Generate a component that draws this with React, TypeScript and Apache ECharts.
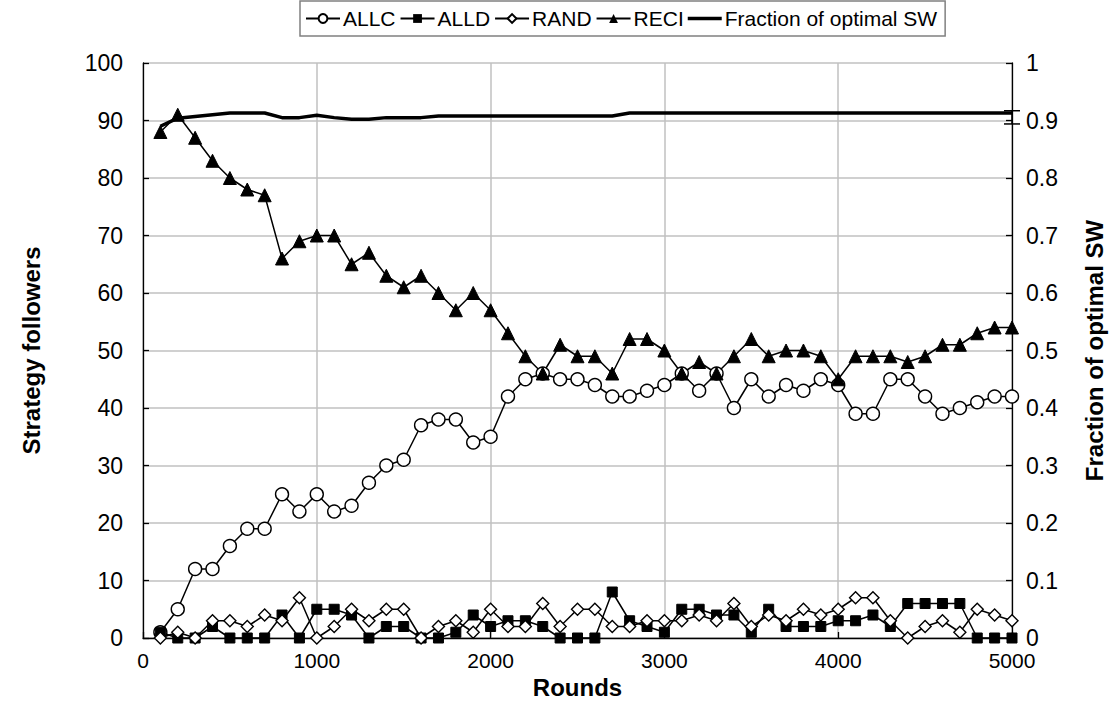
import React, { useEffect, useRef } from "react";
import * as echarts from "echarts";

const rounds = [
  100, 200, 300, 400, 500, 600, 700, 800, 900, 1000,
  1100, 1200, 1300, 1400, 1500, 1600, 1700, 1800, 1900, 2000,
  2100, 2200, 2300, 2400, 2500, 2600, 2700, 2800, 2900, 3000,
  3100, 3200, 3300, 3400, 3500, 3600, 3700, 3800, 3900, 4000,
  4100, 4200, 4300, 4400, 4500, 4600, 4700, 4800, 4900, 5000,
];

const allc = [
  1, 5, 12, 12, 16, 19, 19, 25, 22, 25,
  22, 23, 27, 30, 31, 37, 38, 38, 34, 35,
  42, 45, 46, 45, 45, 44, 42, 42, 43, 44,
  46, 43, 46, 40, 45, 42, 44, 43, 45, 44,
  39, 39, 45, 45, 42, 39, 40, 41, 42, 42,
];

const alld = [
  1, 0, 0, 2, 0, 0, 0, 4, 0, 5,
  5, 4, 0, 2, 2, 0, 0, 1, 4, 2,
  3, 3, 2, 0, 0, 0, 8, 3, 2, 1,
  5, 5, 4, 4, 1, 5, 2, 2, 2, 3,
  3, 4, 2, 6, 6, 6, 6, 0, 0, 0,
];

const rand = [
  0, 1, 0, 3, 3, 2, 4, 3, 7, 0,
  2, 5, 3, 5, 5, 0, 2, 3, 1, 5,
  2, 2, 6, 2, 5, 5, 2, 2, 3, 3,
  3, 4, 3, 6, 2, 4, 3, 5, 4, 5,
  7, 7, 3, 0, 2, 3, 1, 5, 4, 3,
];

const reci = [
  88, 91, 87, 83, 80, 78, 77, 66, 69, 70,
  70, 65, 67, 63, 61, 63, 60, 57, 60, 57,
  53, 49, 46, 51, 49, 49, 46, 52, 52, 50,
  46, 48, 46, 49, 52, 49, 50, 50, 49, 45,
  49, 49, 49, 48, 49, 51, 51, 53, 54, 54,
];

const fractionSW = [
  0.89, 0.904, 0.907, 0.91, 0.913, 0.913, 0.913, 0.905, 0.905, 0.909,
  0.905, 0.902, 0.902, 0.905, 0.905, 0.905, 0.908, 0.908, 0.908, 0.908,
  0.908, 0.908, 0.908, 0.908, 0.908, 0.908, 0.908, 0.913, 0.913, 0.913,
  0.913, 0.913, 0.913, 0.913, 0.913, 0.913, 0.913, 0.913, 0.913, 0.913,
  0.913, 0.913, 0.913, 0.913, 0.913, 0.913, 0.913, 0.913, 0.913, 0.913,
];

// error bar at the last point: [round, low, high]
const fractionErrorBar = [[5000, 0.894, 0.917]];

const legendNames = ["ALLC", "ALLD", "RAND", "RECI", "Fraction of optimal SW"];

const leftTicks = { min: 0, max: 100, interval: 10 };
const rightTicks = { min: 0, max: 1, interval: 0.1 };
const xTicks = { min: 0, max: 5000, interval: 1000 };

const FONT = "'Liberation Sans', Arial, sans-serif";

function pairs(ys: number[]) {
  return rounds.map((r, i) => [r, ys[i]]);
}

export default function App() {
  const ref = useRef<HTMLDivElement>(null);

  useEffect(() => {
    if (!ref.current) return;
    const chart = echarts.init(ref.current, undefined, { renderer: "svg" });
    const lineStyle = { color: "#000", width: 1.5 };
    const axisLine = { show: true, lineStyle: { color: "#000", width: 1.3 } };
    const axisTick = { show: true, inside: true, length: 6, lineStyle: { color: "#000", width: 1.3 } };
    const splitLine = { show: true, lineStyle: { color: "#c0c0c0", width: 1.5 } };
    const nameStyle = { color: "#000", fontSize: 24, fontWeight: "bold" as const, fontFamily: FONT };

    chart.setOption({
      animation: false,
      backgroundColor: "#fff",
      textStyle: { fontFamily: FONT },
      legend: {
        top: 1,
        left: 300,
        itemWidth: 34,
        itemHeight: 11,
        itemGap: 4,
        padding: [7, 8, 7, 5],
        borderColor: "#808080",
        borderWidth: 1.5,
        textStyle: { color: "#000", fontSize: 21, fontFamily: FONT, padding: [0, 0, 0, -2] },
        data: legendNames.map((n, i) =>
          i === 4 ? { name: n, icon: "path://M0,0H40V4.2H0Z" } : { name: n }
        ),
      },
      grid: { left: 143, right: 99, top: 63, bottom: 82 },
      xAxis: {
        type: "value",
        ...xTicks,
        name: "Rounds",
        nameLocation: "middle",
        nameGap: 33,
        nameTextStyle: nameStyle,
        axisLine,
        axisTick,
        splitLine,
        axisLabel: {
          color: "#000",
          fontSize: 21,
          fontFamily: FONT,
          margin: 12,
          formatter: (v: number) => String(v),
        },
      },
      yAxis: [
        {
          type: "value",
          ...leftTicks,
          name: "Strategy followers",
          nameLocation: "middle",
          nameRotate: 90,
          nameGap: 100,
          nameTextStyle: nameStyle,
          axisLine,
          axisTick,
          splitLine,
          axisLabel: { color: "#000", fontSize: 23, fontFamily: FONT, margin: 20 },
        },
        {
          type: "value",
          position: "right",
          ...rightTicks,
          name: "Fraction of optimal SW",
          nameLocation: "middle",
          nameRotate: 90,
          nameGap: 70,
          nameTextStyle: nameStyle,
          axisLine,
          axisTick,
          splitLine: { show: false },
          axisLabel: {
            color: "#000",
            fontSize: 23,
            fontFamily: FONT,
            margin: 14,
            formatter: (v: number) => String(Number(v.toFixed(1))),
          },
        },
      ],
      series: [
        {
          name: "ALLC",
          type: "line",
          data: pairs(allc),
          symbol: "circle",
          symbolSize: 13,
          lineStyle,
          itemStyle: { color: "#fff", borderColor: "#000", borderWidth: 1.4 },
        },
        {
          name: "ALLD",
          type: "line",
          data: pairs(alld),
          symbol: "rect",
          symbolSize: 10,
          lineStyle,
          itemStyle: { color: "#000", borderColor: "#000" },
        },
        {
          name: "RAND",
          type: "line",
          data: pairs(rand),
          symbol: "diamond",
          symbolSize: 12,
          lineStyle,
          itemStyle: { color: "#fff", borderColor: "#000", borderWidth: 1.4 },
        },
        {
          name: "RECI",
          type: "line",
          data: pairs(reci),
          symbol: "triangle",
          symbolSize: 13,
          lineStyle,
          itemStyle: { color: "#000", borderColor: "#000" },
        },
        {
          name: "Fraction of optimal SW",
          type: "line",
          yAxisIndex: 1,
          data: pairs(fractionSW),
          symbol: "none",
          lineStyle: { color: "#000", width: 3.5 },
          itemStyle: { color: "#000" },
        },
        {
          type: "custom",
          yAxisIndex: 1,
          data: fractionErrorBar,
          encode: { x: 0, y: [1, 2] },
          clip: false,
          z: 10,
          renderItem: (params: any, api: any) => {
            const x = api.value(0);
            const lo = api.coord([x, api.value(1)]);
            const hi = api.coord([x, api.value(2)]);
            const w = 8;
            const st = { stroke: "#000", lineWidth: 1.5 };
            return {
              type: "group",
              children: [
                { type: "line", shape: { x1: lo[0], y1: lo[1], x2: hi[0], y2: hi[1] }, style: st },
                { type: "line", shape: { x1: lo[0] - w, y1: lo[1], x2: lo[0] + w, y2: lo[1] }, style: st },
                { type: "line", shape: { x1: hi[0] - w, y1: hi[1], x2: hi[0] + w, y2: hi[1] }, style: st },
              ],
            };
          },
        },
      ],
    });
    return () => chart.dispose();
  }, []);

  return (
    <div
      ref={ref}
      style={{ position: "fixed", left: 0, top: 0, width: 1114, height: 720, background: "#fff" }}
    />
  );
}
